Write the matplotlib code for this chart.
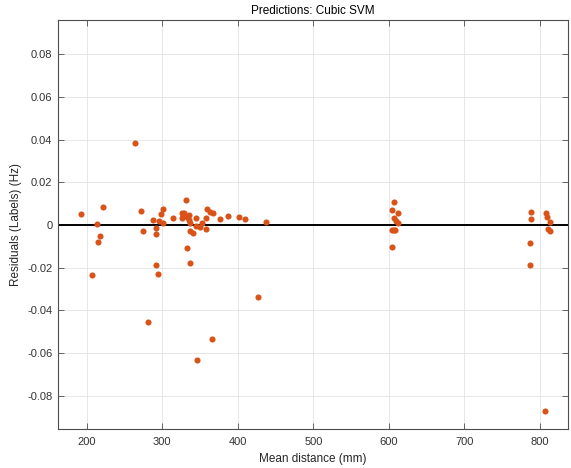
import matplotlib
matplotlib.use("Agg")
import matplotlib.pyplot as plt
from matplotlib.ticker import FuncFormatter

plt.rcParams['font.family'] = ['Liberation Sans', 'DejaVu Sans']

# Mean distance (mm)
mean_distance = [
    192.1, 206.6, 214.0, 217.6, 214.5, 222.0, 263.9, 271.4, 274.9, 280.7,
    288.1, 292.1, 292.1, 292.1, 294.7, 296.0, 298.3, 300.5, 301.3, 313.8,
    325.7, 329.1, 326.5, 331.3, 332.3, 336.2, 335.7, 335.7, 336.6, 336.6,
    341.0, 344.6, 344.2, 345.5, 349.9, 352.1, 357.4, 357.8, 359.5, 363.1,
    367.5, 366.1, 376.3, 387.3, 401.9, 409.8, 427.0, 437.2, 327.4, 332.7,
    606.5, 603.4, 612.2, 606.5, 609.1, 612.2, 603.4, 606.5, 608.5, 603.4,
    788.6, 787.7, 786.3, 786.3, 807.5, 809.3, 812.8, 810.6, 813.8, 807.0,
]
# Residuals (Hz)
residuals = [
    0.0052, -0.0236, 0.0003, -0.0052, -0.0080, 0.0086, 0.0384, 0.0064, -0.0027, -0.0455,
    0.0025, -0.0015, -0.0042, -0.0188, -0.0230, 0.0019, 0.0050, 0.0073, 0.0011, 0.0033,
    0.0055, 0.0055, 0.0034, 0.0117, -0.0107, -0.0177, 0.0047, 0.0024, 0.0011, -0.0027,
    -0.0038, 0.0034, -0.0005, -0.0634, -0.0008, 0.0008, -0.0020, 0.0034, 0.0074, 0.0062,
    0.0055, -0.0535, 0.0028, 0.0044, 0.0036, 0.0027, -0.0338, 0.0013, 0.0042, 0.0039,
    0.0107, 0.0070, 0.0058, 0.0031, 0.0020, 0.0011, -0.0023, -0.0023, -0.0023, -0.0102,
    0.0060, 0.0028, -0.0083, -0.0185, 0.0055, 0.0039, 0.0015, -0.0019, -0.0028, -0.0872,
]

x_ticks = [200, 300, 400, 500, 600, 700, 800]
y_ticks = [-0.08, -0.06, -0.04, -0.02, 0, 0.02, 0.04, 0.06, 0.08]

fig = plt.figure(figsize=(5.71, 4.68), dpi=100)
ax = fig.add_axes([58 / 571, 1 - 429 / 468, (568 - 58) / 571, (429 - 20) / 468])

ax.axhline(0, color='black', linewidth=1.4, zorder=2)
ax.plot(mean_distance, residuals, linestyle='none', marker='o', markersize=4.4,
        color='#D95319', markeredgewidth=0, zorder=3)

ax.set_xlim(162, 837)
ax.set_ylim(-0.0955, 0.0960)
ax.set_xticks(x_ticks)
ax.set_yticks(y_ticks)
ax.yaxis.set_major_formatter(FuncFormatter(lambda v, p: '0' if abs(v) < 1e-12 else f'{v:.2f}'))

ax.grid(True, color='#e3e3e3', linewidth=0.6)
ax.set_axisbelow(True)
for s in ax.spines.values():
    s.set_color('#4d4d4d')
    s.set_linewidth(0.8)
ax.tick_params(direction='in', top=True, right=True, length=4, width=0.6,
               colors='#4d4d4d', labelcolor='#333333', labelsize=8, pad=4)
ax.tick_params(axis='x', pad=6)

ax.set_xlabel('Mean distance (mm)', fontsize=8.5, color='#262626', labelpad=4)
ax.set_ylabel('Residuals (Labels) (Hz)', fontsize=8.5, color='#262626', labelpad=4)
ax.set_title('Predictions: Cubic SVM', fontsize=8.5, color='#000000', pad=4)

fig.savefig('out.png', dpi=100)
